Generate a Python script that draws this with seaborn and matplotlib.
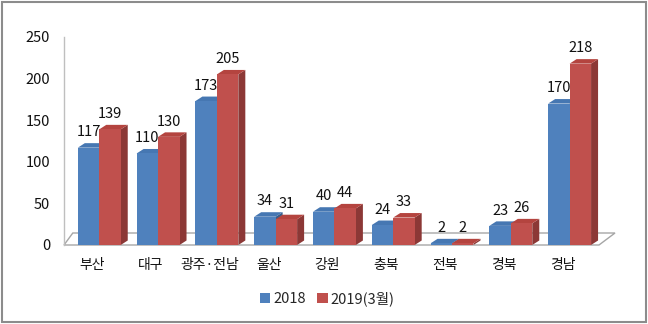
import matplotlib
matplotlib.use("Agg")
import matplotlib.pyplot as plt
import matplotlib.transforms as mtransforms
from matplotlib.patches import Polygon, Rectangle
import seaborn as sns
import pandas as pd

categories = ['부산', '대구', '광주·전남', '울산', '강원', '충북', '전북', '경북', '경남']
series_names = ['2018', '2019(3월)']
values_2018 = [117, 110, 173, 34, 40, 24, 2, 23, 170]
values_2019 = [139, 130, 205, 31, 44, 33, 2, 26, 218]
yticks = [0, 50, 100, 150, 200, 250]

df = pd.DataFrame({
    'region': categories * 2,
    'series': [series_names[0]] * len(categories) + [series_names[1]] * len(categories),
    'value': values_2018 + values_2019,
})

sns.set_theme(style='white')
plt.rcParams['font.family'] = ['Noto Sans CJK KR', 'DejaVu Sans']

front = {'2018': '#4F81BD', '2019(3월)': '#C0504D'}
side = {'2018': '#385D8A', '2019(3월)': '#8C3836'}
top = {'2018': '#4677B2', '2019(3월)': '#B4443F'}

fig = plt.figure(figsize=(6.48, 3.24), dpi=100)
ax = fig.add_axes([64 / 648, 1 - 245 / 324, (599 - 64) / 648, (245 - 37) / 324])

sns.barplot(data=df, x='region', y='value', hue='series', order=categories,
            hue_order=series_names, palette=front, width=0.73, saturation=1,
            ax=ax, zorder=3, legend=True, linewidth=0, edgecolor='none')

ax.set_xlim(-0.6, 8.5)
ax.set_ylim(0, 250)
ax.set_yticks(yticks)
ax.set_xlabel('')
ax.set_ylabel('')

# depth offsets in data units from pixel offsets
fig.canvas.draw()
inv = ax.transData.inverted()
p0 = inv.transform(ax.transData.transform((0, 0)))
p1 = inv.transform(ax.transData.transform((0, 0)) + [7, 4.5])
ddx, ddy = p1 - p0

for cont, name in zip(ax.containers, series_names):
    for bar in cont:
        x, w, h = bar.get_x(), bar.get_width(), bar.get_height()
        sidep = Polygon([(x + w, 0), (x + w + ddx, ddy), (x + w + ddx, h + ddy), (x + w, h)],
                        closed=True, facecolor=side[name], edgecolor='none', zorder=2)
        topp = Polygon([(x, h), (x + ddx, h + ddy), (x + w + ddx, h + ddy), (x + w, h)],
                       closed=True, facecolor=top[name], edgecolor='none', zorder=2)
        ax.add_patch(sidep)
        ax.add_patch(topp)
    ax.bar_label(cont, labels=[str(int(b.get_height())) for b in cont], padding=6,
                 fontsize=10.5, color='#111111')

# floor
q1 = inv.transform(ax.transData.transform((0, 0)) + [16, 12])
fdx, fdy = q1 - p0
xl, xr = ax.get_xlim()
floor = Polygon([(xl, 0), (xr, 0), (xr + fdx, fdy), (xl + fdx * 0.55, fdy)], closed=True,
                facecolor='white', edgecolor='#A6A6A6', linewidth=1.0, zorder=1, clip_on=False)
ax.add_patch(floor)

for s in ['top', 'right', 'bottom']:
    ax.spines[s].set_visible(False)
ax.spines['left'].set_color('#BFBFBF')
ax.spines['left'].set_linewidth(1.0)

ax.tick_params(axis='y', length=0, pad=10, labelsize=10.5, labelcolor='#111111')
ax.tick_params(axis='x', length=0, pad=9, labelsize=10, labelcolor='#111111')
offset = mtransforms.ScaledTranslation(-7 / 100, 0, fig.dpi_scale_trans)
for lab in ax.get_xticklabels():
    lab.set_transform(lab.get_transform() + offset)

handles, labels = ax.get_legend_handles_labels()
ax.legend_.remove()
fig.legend(handles, labels, loc='center', bbox_to_anchor=(0.505, 1 - 299 / 324), ncol=2,
           frameon=False, handlelength=0.7, handleheight=0.7, handletextpad=0.2,
           columnspacing=0.8, fontsize=10.5)

fig.patches.append(Rectangle((0.003, 0.005), 0.994, 0.99, transform=fig.transFigure,
                             fill=False, edgecolor='#8C8C8C', linewidth=1.5))

fig.savefig('out.png', dpi=100)
